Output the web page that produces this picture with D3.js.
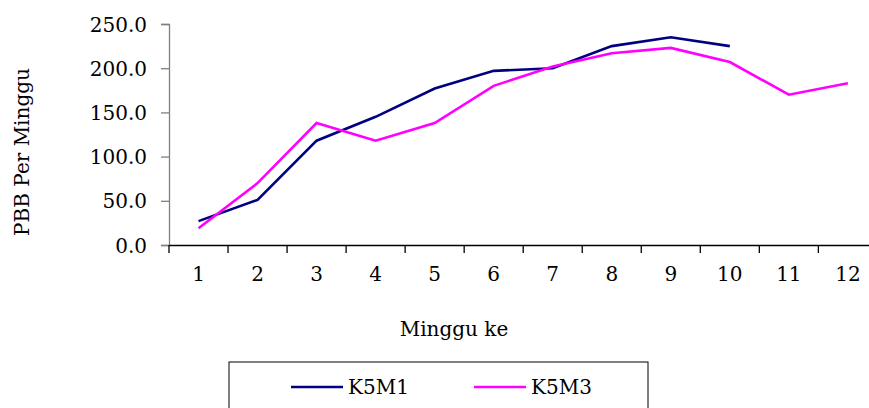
<!DOCTYPE html>
<html>
<head>
<meta charset="utf-8">
<title>PBB Per Minggu</title>
<script src="https://cdn.jsdelivr.net/npm/d3@7"></script>
<style>
  body { margin: 0; background: #fff; }
  text { font-family: "DejaVu Serif", serif; fill: #000; }
</style>
</head>
<body>
<script>
// weeks and series
const weeks = [1, 2, 3, 4, 5, 6, 7, 8, 9, 10, 11, 12]
const k5m1 = [27, 51, 118, 145, 177, 197, 200, 225, 235, 225]
const k5m3 = [19, 70, 138, 118, 138, 180, 202, 217, 223, 207, 170, 183]
const yTicks = [0, 50, 100, 150, 200, 250]
const seriesNames = ["K5M1", "K5M3"]
const seriesColors = ["#000080", "#ff00ff"]

const w = 869, h = 408

const svg = d3.select("body").append("svg")
  .attr("width", w)
  .attr("height", h)

const x = d3.scaleBand().domain(weeks).range([169, 877.4])
const y = d3.scaleLinear().domain([0, 250]).range([245, 24])

// y axis
const yAxis = svg.append("g")
  .attr("transform", "translate(169,0)")
  .call(d3.axisLeft(y).tickValues(yTicks).tickSize(8).tickPadding(14).tickFormat(d3.format(".1f")))
yAxis.select(".domain").attr("stroke", "#808080").attr("stroke-width", 1.3)
yAxis.selectAll(".tick line").attr("stroke", "#808080").attr("stroke-width", 1.3)
yAxis.selectAll("text").style("font-size", "20px").attr("dy", "0.35em")

// x axis
const xAxis = svg.append("g")
  .attr("transform", "translate(0,245)")
  .call(d3.axisBottom(x).tickSizeOuter(0).tickSize(0).tickPadding(22))
xAxis.select(".domain").attr("stroke", "#000").attr("stroke-width", 1.3)
xAxis.selectAll("text").style("font-size", "20px")
// tick marks between categories
xAxis.selectAll(".sep")
  .data(weeks)
  .enter()
  .append("line")
  .attr("x1", d => x(d)).attr("x2", d => x(d))
  .attr("y1", 0).attr("y2", 8)
  .attr("stroke", "#000").attr("stroke-width", 1.3)

const line = d3.line()
  .x((d, i) => x(weeks[i]) + x.bandwidth() / 2)
  .y(d => y(d))

svg.append("path").datum(k5m1)
  .attr("d", line).attr("fill", "none")
  .attr("stroke", seriesColors[0]).attr("stroke-width", 2.6)
svg.append("path").datum(k5m3)
  .attr("d", line).attr("fill", "none")
  .attr("stroke", seriesColors[1]).attr("stroke-width", 2.6)

// axis titles
svg.append("text")
  .attr("transform", "translate(29,152) rotate(-90)")
  .attr("text-anchor", "middle")
  .style("font-size", "20px")
  .text("PBB Per Minggu")

svg.append("text")
  .attr("x", 454).attr("y", 336)
  .attr("text-anchor", "middle")
  .style("font-size", "20px")
  .text("Minggu ke")

// legend
svg.append("rect")
  .attr("x", 229).attr("y", 362)
  .attr("width", 419).attr("height", 60)
  .attr("fill", "none").attr("stroke", "#000").attr("stroke-width", 1)

const legendX = [291, 474]
const lg = svg.selectAll(".legend-item")
  .data(seriesNames)
  .enter()
  .append("g")
  .attr("class", "legend-item")
  .attr("transform", (d, i) => `translate(${legendX[i]},387)`)
lg.append("line")
  .attr("x1", 0).attr("x2", 52)
  .attr("stroke", (d, i) => seriesColors[i]).attr("stroke-width", 2.6)
lg.append("text")
  .attr("x", 57).attr("y", 7)
  .style("font-size", "20px")
  .text(d => d)
</script>
</body>
</html>
